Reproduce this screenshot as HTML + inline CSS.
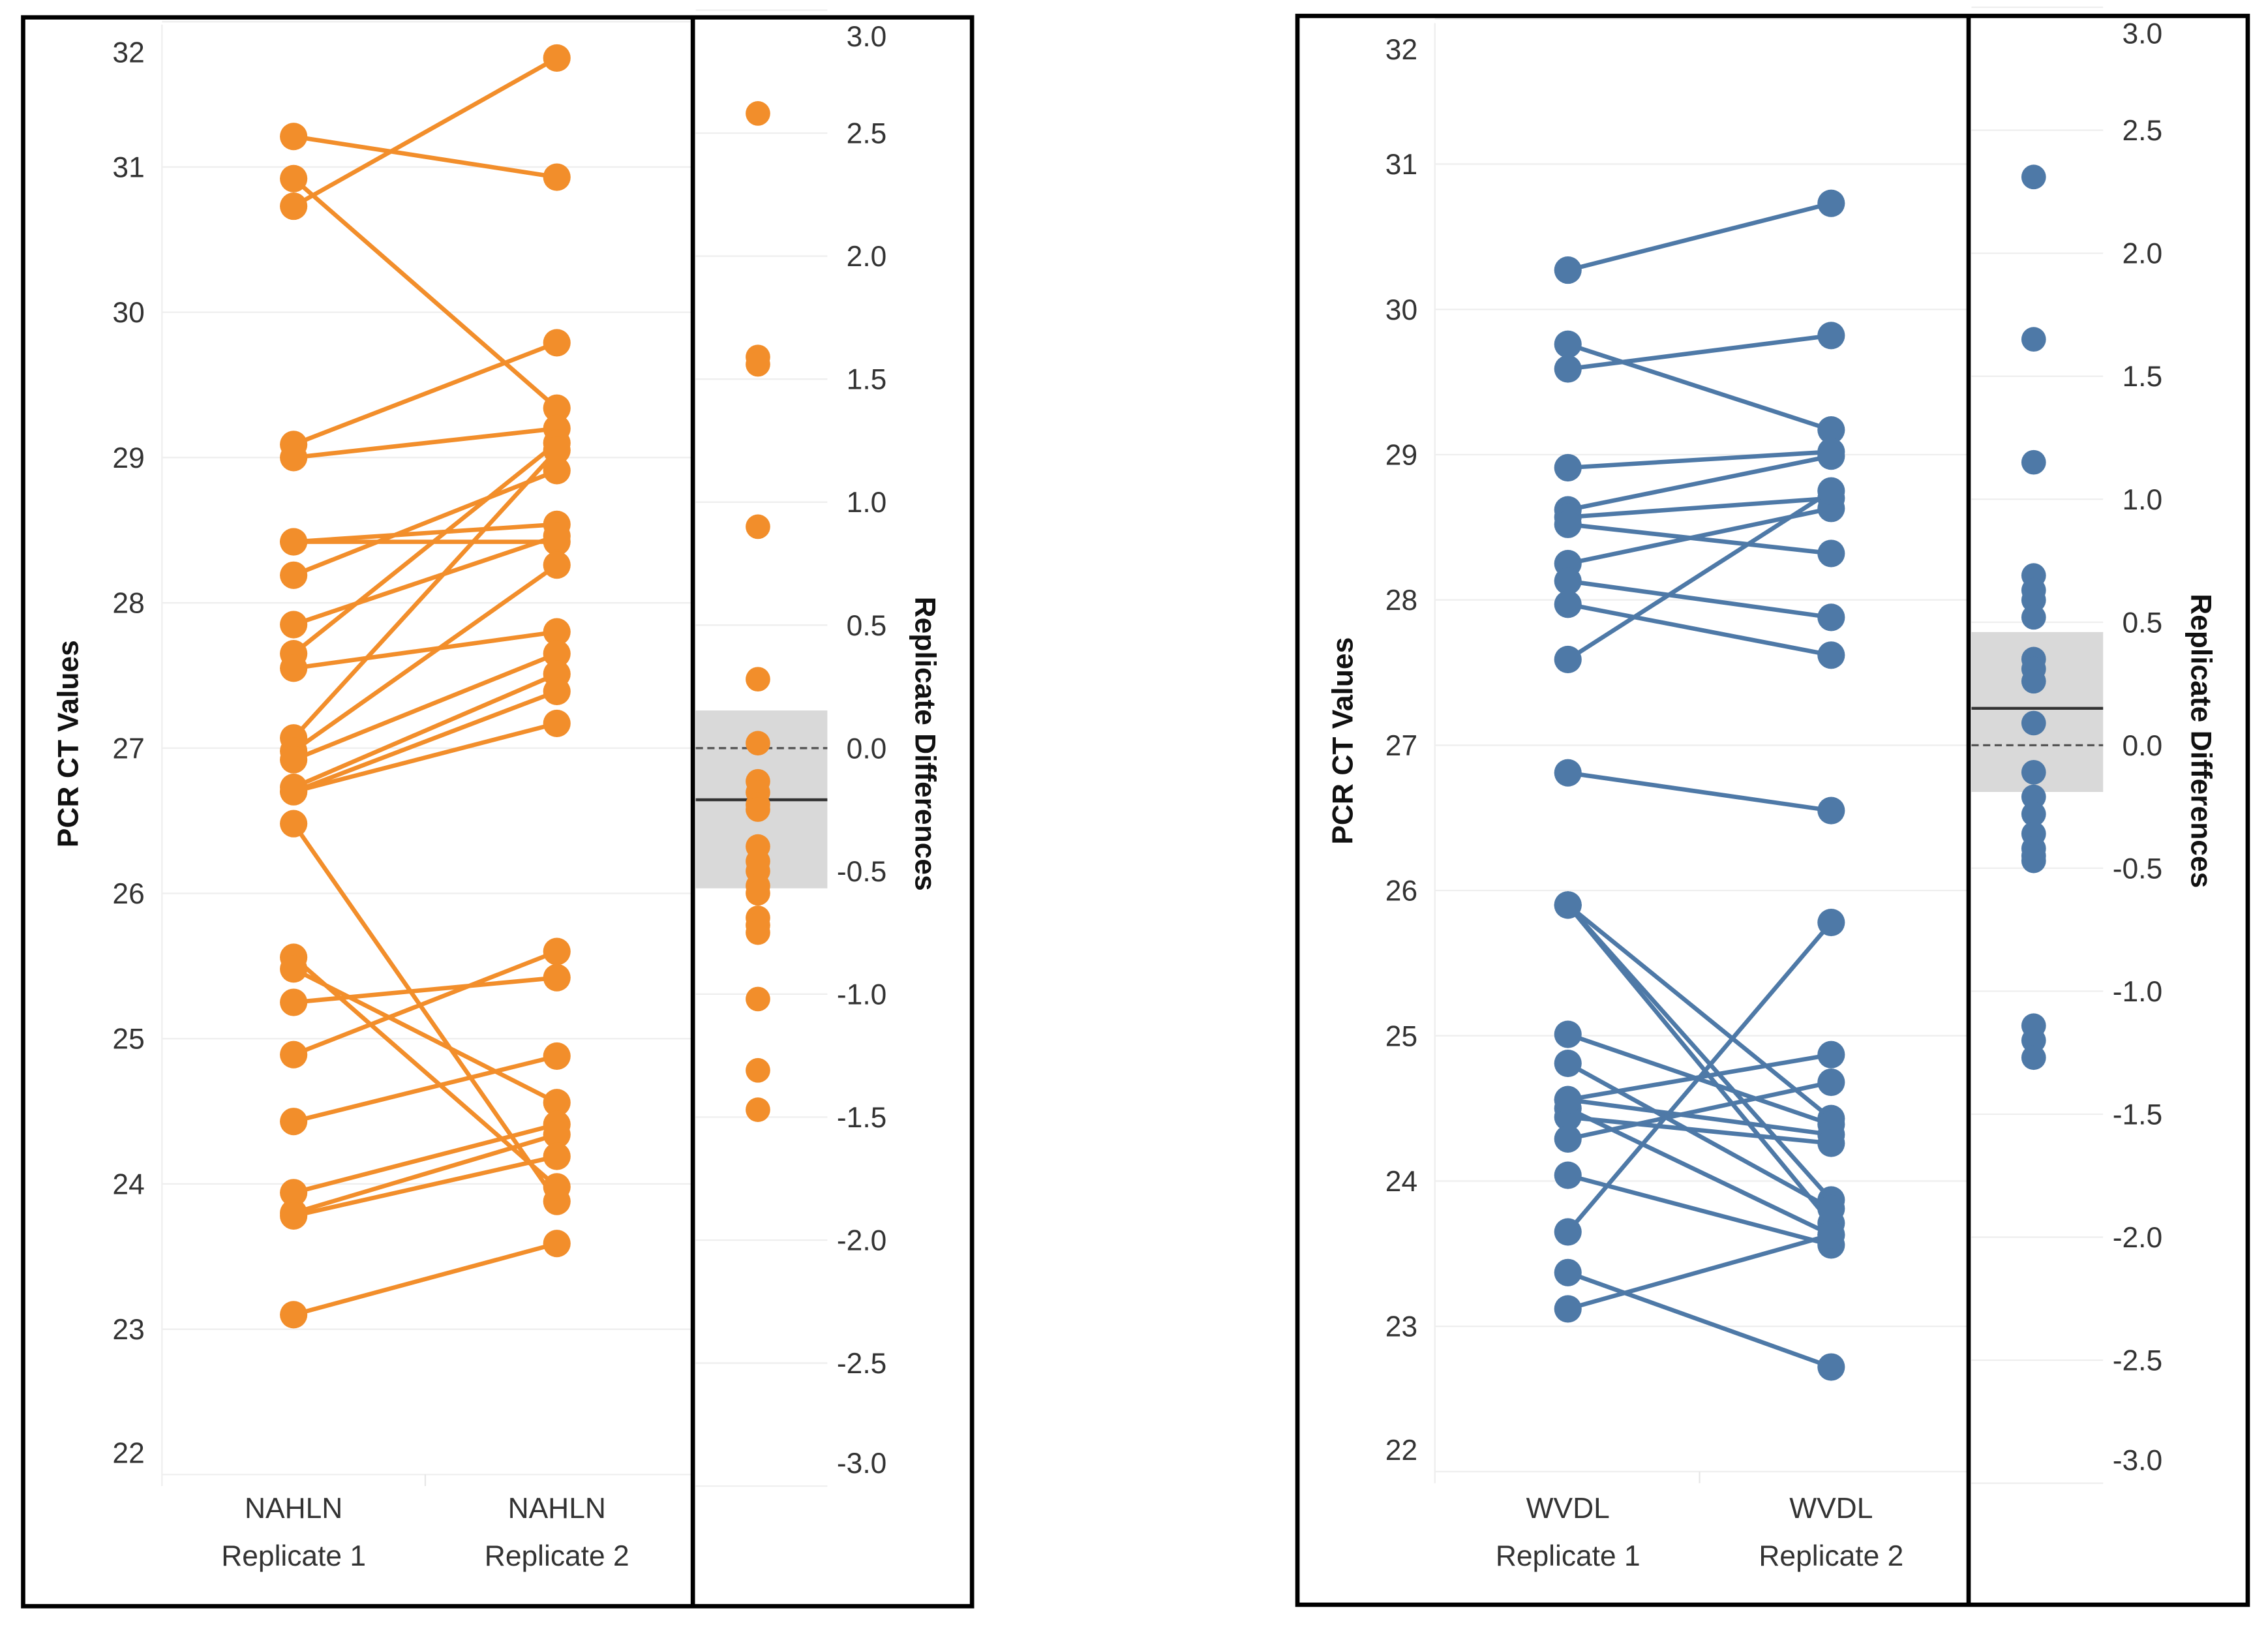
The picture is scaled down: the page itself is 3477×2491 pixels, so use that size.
<!DOCTYPE html>
<html><head><meta charset="utf-8"><style>
html,body{margin:0;padding:0;background:#fff;}
svg{display:block;}
text{font-family:"Liberation Sans","DejaVu Sans",sans-serif;}
</style></head><body>
<svg id="chart" width="3477" height="2491" viewBox="0 0 1568 1123" preserveAspectRatio="none" xmlns="http://www.w3.org/2000/svg">
<rect x="0" y="0" width="1568" height="1123" fill="#fff"/>
</svg>
<script>
// ---- Data: NAHLN (left) ----
const nahlnRep1 = [31.21,30.73,30.92,29.09,29.00,28.42,28.42,28.19,27.85,27.65,27.55,27.07,26.98,26.92,26.73,26.70,26.70,26.48,25.56,25.48,25.25,24.89,24.43,23.94,23.80,23.78,23.10];
const nahlnRep2 = [30.93,31.75,29.34,29.79,29.20,28.54,28.42,28.91,28.46,29.10,27.80,29.05,28.26,27.65,27.51,27.39,27.17,23.88,23.98,24.56,25.42,25.60,24.88,24.41,24.34,24.19,23.59];
const nahlnDiffs = [2.58,1.59,1.56,0.90,0.28,0.02,-0.135,-0.18,-0.23,-0.25,-0.40,-0.46,-0.50,-0.56,-0.59,-0.69,-0.72,-0.75,-1.02,-1.31,-1.47];
const nahlnBand = [0.153,-0.57];
const nahlnMean = [-0.21];
// ---- Data: WVDL (right) ----
const wvdlRep1 = [30.27,29.76,29.59,28.91,28.62,28.57,28.52,28.25,28.13,27.97,27.59,26.81,25.90,25.90,25.90,25.01,24.81,24.56,24.50,24.44,24.29,24.04,23.65,23.37,23.12,24.56];
const wvdlRep2 = [30.73,29.17,29.82,29.02,28.99,28.70,28.32,28.63,27.88,27.62,28.75,26.55,23.87,23.71,24.43,24.39,23.81,24.32,23.63,24.26,24.68,23.56,25.78,22.72,23.63,24.87];
const wvdlDiffs = [2.31,1.65,1.15,0.69,0.63,0.59,0.52,0.35,0.31,0.26,0.09,-0.11,-0.21,-0.28,-0.36,-0.42,-0.45,-0.47,-1.14,-1.20,-1.27];
const wvdlBand = [0.46,-0.19];
const wvdlMean = [0.15];
// ---- Ticks ----
const ctTicks = [32,31,30,29,28,27,26,25,24,23,22];
const diffTicks = [3.0,2.5,2.0,1.5,1.0,0.5,0.0,-0.5,-1.0,-1.5,-2.0,-2.5,-3.0];
const catLeft = ["NAHLN","NAHLN"];
const catRight = ["WVDL","WVDL"];

const NS="http://www.w3.org/2000/svg";
const svg=document.getElementById('chart');
function mk(tag,attrs,parent,txt){const e=document.createElementNS(NS,tag);for(const k in attrs)e.setAttribute(k,attrs[k]);if(txt!==undefined)e.textContent=txt;(parent||svg).appendChild(e);return e;}

function panel(o){
  const g=mk('g',{});
  
  
  const yCT=v=>o.zeroY-(v-27)*100.4;
  const yD=d=>o.zeroY-d*170;
  // gridlines CT
  ctTicks.forEach(t=>{
    const gl=mk('line',{x1:o.plotL,x2:o.div-1,y1:yCT(t),y2:yCT(t),stroke:'#eeeeee','stroke-width':1},g);
    
    
    let ly=yCT(t)+7;
    if(t===32) ly=yCT(t)+28;
    if(t===22) ly=yCT(t)-8;
    const tl=mk('text',{x:o.plotL-12,y:ly,'text-anchor':'end','font-size':20,fill:'#333'},g,String(t));
    
    
  });
  mk('line',{x1:o.plotL,x2:o.plotL,y1:o.top+5,y2:yCT(22)+8,stroke:'#eeeeee','stroke-width':1},g);
  mk('line',{x1:(o.x1+o.x2)/2,x2:(o.x1+o.x2)/2,y1:yCT(22),y2:yCT(22)+8,stroke:'#e6e6e6','stroke-width':1},g);
  // diff panel
  const dL=o.div+2, dR=o.div+93;
  diffTicks.forEach(t=>{
    const gl=mk('line',{x1:dL,x2:dR,y1:yD(t),y2:yD(t),stroke:'#eeeeee','stroke-width':1},g);
    
    
    let ly=yD(t)+7;
    if(t===3) ly=yD(t)+25;
    if(t===-3) ly=yD(t)-9;
    const tl=mk('text',{x:o.div+134,y:ly,'text-anchor':'end','font-size':20,fill:'#333'},g,t.toFixed(1));
    
    
  });
  const band=mk('rect',{x:dL,y:yD(o.band[0]),width:dR-dL,height:yD(o.band[1])-yD(o.band[0]),fill:'#d9d9d9'},g);
  
  
  const z=mk('line',{x1:dL,x2:dR,y1:yD(0),y2:yD(0),stroke:'#555','stroke-width':1.5,'stroke-dasharray':'5,3'},g);
  
  
  const m=mk('line',{x1:dL,x2:dR,y1:yD(o.mean[0]),y2:yD(o.mean[0]),stroke:'#333','stroke-width':2},g);
  
  
  o.diffs.forEach(d=>{
    const c=mk('circle',{cx:o.div+45,cy:yD(d),r:8.5,fill:o.color},g);
    
    
  });
  // lines & points
  o.r1.forEach((v,i)=>{
    const l=mk('line',{x1:o.x1,y1:yCT(v),x2:o.x2,y2:yCT(o.r2[i]),stroke:o.color,'stroke-width':3},g);
    
    
  });
  o.r1.forEach((v,i)=>{
    const a=mk('circle',{cx:o.x1,cy:yCT(v),r:9.5,fill:o.color},g);
    
    
    const b=mk('circle',{cx:o.x2,cy:yCT(o.r2[i]),r:9.5,fill:o.color},g);
    
    
  });
  // category labels
  [o.x1,o.x2].forEach((x,i)=>{
    const t1=mk('text',{x:x,y:1049,'text-anchor':'middle','font-size':20,fill:'#333'},g,o.cats[i]);
    
    
    const t2=mk('text',{x:x,y:1082,'text-anchor':'middle','font-size':20,fill:'#333'},g,'Replicate '+(i+1));
    
    
  });
  const yt=mk('text',{x:0,y:0,'text-anchor':'middle','font-size':20,'font-weight':'bold',fill:'#111',transform:`translate(${o.titleX},${o.zeroY-3}) rotate(-90)`},g,'PCR CT Values');
  
  
  const rt=mk('text',{x:0,y:0,'text-anchor':'middle','font-size':20,'font-weight':'bold',fill:'#111',transform:`translate(${o.div+154},${o.zeroY-3}) rotate(90)`},g,'Replicate Differences');
  
  
  // frames
  const f=mk('rect',{x:o.left,y:o.top,width:o.right-o.left,height:o.bottom-o.top,fill:'none',stroke:'#000','stroke-width':3},g);
  
  
  mk('line',{x1:o.div,x2:o.div,y1:o.top,y2:o.bottom,stroke:'#000','stroke-width':3},g);
}
panel({name:'nahln',color:'#f28e2b',left:16,right:672,top:12,bottom:1110,div:479,plotL:112,zeroY:517,x1:203,x2:385,titleX:54,r1:nahlnRep1,r2:nahlnRep2,diffs:nahlnDiffs,band:nahlnBand,mean:nahlnMean,cats:catLeft});
panel({name:'wvdl',color:'#4e79a7',left:897,right:1554,top:11,bottom:1109,div:1361,plotL:992,zeroY:515,x1:1084,x2:1266,titleX:935,r1:wvdlRep1,r2:wvdlRep2,diffs:wvdlDiffs,band:wvdlBand,mean:wvdlMean,cats:catRight});
</script>
</body></html>
